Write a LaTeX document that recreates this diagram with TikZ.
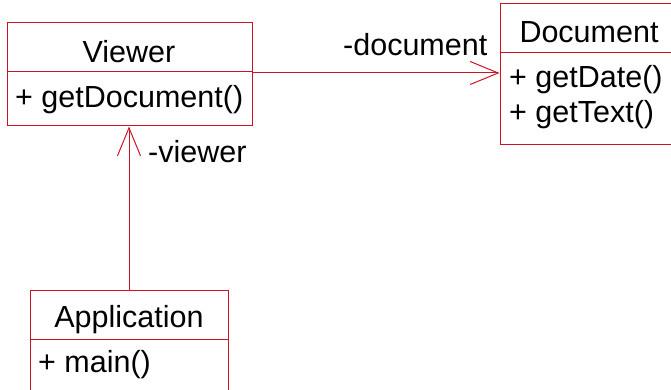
\documentclass[tikz,border=0pt]{standalone}
\usepackage{fontspec}
\setmainfont{Liberation Sans}
\usetikzlibrary{arrows.meta}
\definecolor{umlred}{RGB}{204,20,40}
\begin{document}
\begin{tikzpicture}[x=1pt,y=-1pt,
  classbox/.style={draw=umlred,line width=1pt,rectangle,inner sep=0pt,fill=none},
  divider/.style={draw=umlred,line width=1pt},
  txt/.style={anchor=base west,inner sep=0pt,font=\fontsize{30.5}{33}\selectfont,text=black},
  ttl/.style={anchor=base,inner sep=0pt,font=\fontsize{30.5}{33}\selectfont,text=black},
  assoc/.style={draw=umlred,line width=1pt,-{Straight Barb[length=28pt,width=23pt]}}]
\useasboundingbox (0,0) rectangle (671,390);
\clip (0,0) rectangle (671,390);
% boxes
\node[classbox,minimum width=245pt,minimum height=103pt] (viewer) at (129.5,74.5) {};
\node[classbox,minimum width=190pt,minimum height=141pt] (doc) at (595,74.5) {};
\node[classbox,minimum width=198pt,minimum height=120pt] (app) at (129,350) {};
% dividers
\coordinate (vd) at (7,72);
\coordinate (dd) at (500,53);
\coordinate (ad) at (30,339);
\draw[divider] (vd) -- (vd -| viewer.east);
\draw[divider] (dd) -- (dd -| doc.east);
\draw[divider] (ad) -- (ad -| app.east);
% texts
\node[ttl] (vt) at (129,63) {Viewer};
\node[txt] (vm) at (15,108) {+ getDocument()};
\node[ttl] (dt) at (589,43) {Document};
\node[txt] (dm1) at (509,88) {+ getDate()};
\node[txt] (dm2) at (509,123) {+ getText()};
\node[ttl] (at) at (129,327) {Application};
\node[txt] (am) at (38,372) {+ main()};
% labels
\node[txt] (ldoc) at (343,56) {-document};
\node[txt] (lview) at (148,163) {-viewer};
% connectors
\coordinate (vr) at (252,73);
\draw[assoc] (vr) -- (vr -| doc.west);
\draw[assoc] (app.north) -- (viewer.south -| app.north);
\end{tikzpicture}
\end{document}
